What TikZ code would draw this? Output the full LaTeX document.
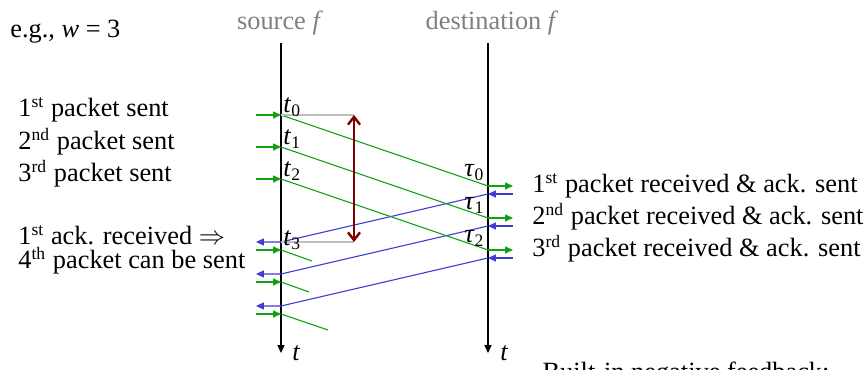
\documentclass[tikz,border=0pt]{standalone}
\usepackage{fontspec}
\setmainfont{Liberation Serif}
\newfontfamily\timesfont{Liberation Serif}
\usetikzlibrary{arrows.meta}
\definecolor{sentgreen}{RGB}{20,160,20}
\definecolor{ackblue}{RGB}{60,60,215}
\definecolor{rttred}{RGB}{128,0,0}
\definecolor{flowgray}{RGB}{128,128,128}

\begin{document}
\begin{tikzpicture}[x=0.016cm, y=-0.016cm,
  every node/.style={font=\timesfont\fontsize{12}{14}\selectfont, inner sep=0pt},
  pkt/.style={sentgreen, line width=0.5pt},
  ack/.style={ackblue, line width=0.5pt},
  tip/.style={-{Triangle[length=3.6pt,width=3.2pt]}}]
  \useasboundingbox (0,0) rectangle (867,370);
  % time axes
  \coordinate (srctop) at (281,43);
  \coordinate (srcbot) at (281,353);
  \coordinate (dsttop) at (488,43);
  \coordinate (dstbot) at (488,353);
  \draw[line width=0.7pt, tip] (srctop) -- (srcbot);
  \draw[line width=0.7pt, tip] (dsttop) -- (dstbot);
  \node[anchor=base west] (srct) at (292,361) {\textit{t}};
  \node[anchor=base west] (dstt) at (500,361) {\textit{t}};
  \node[flowgray, anchor=base] (src) at (280,30) {source \textit{f}};
  \node[flowgray, anchor=base] (dst) at (492,30) {destination \textit{f}};
  \node[anchor=base west] (win) at (10,38) {e.g., \textit{w} = 3};
  % packets sent
  \foreach \i/\y in {0/115,1/147,2/179,3/250,4/282,5/314} {
    \coordinate (s\i) at (281,\y);
    \coordinate (in\i) at (256,\y);
    \draw[pkt, tip] (in\i) -- (s\i);
  }
  % packets received, acks sent
  \foreach \i/\y in {0/186,1/218,2/250} {
    \coordinate (r\i) at (488,\y);
    \coordinate (rout\i) at (513,\y);
    \coordinate (a\i) at (488,\y+8);
    \coordinate (ain\i) at (513,\y+8);
    \coordinate (k\i) at (281,\y+56);
    \coordinate (kout\i) at (256,\y+56);
    \draw[pkt] (s\i) -- (r\i);
    \draw[pkt, tip] (r\i) -- (rout\i);
    \draw[ack, tip] (ain\i) -- (a\i);
    \draw[ack, tip] (a\i) -- (k\i) -- (kout\i);
  }
  \coordinate (e3) at (312,261);
  \coordinate (e4) at (309,292);
  \coordinate (e5) at (328,330);
  \foreach \i in {3,4,5} \draw[pkt] (s\i) -- (e\i);
  % round trip
  \coordinate (rtttop) at (354,115);
  \coordinate (rttbot) at (354,242);
  \draw[black!25, line width=0.5pt] (s0) -- (rtttop);
  \draw[black!25, line width=0.5pt] (k0) -- (rttbot);
  \draw[rttred, line width=1.1pt, {Straight Barb[length=3.5pt,width=5.5pt]}-{Straight Barb[length=3.5pt,width=5.5pt]}] (rtttop) -- (rttbot);
  % time labels
  \node[anchor=base west] (t0) at (283,113) {\textit{t}\textsubscript{0}};
  \node[anchor=base west] (t1) at (283,145) {\textit{t}\textsubscript{1}};
  \node[anchor=base west] (t2) at (283,177) {\textit{t}\textsubscript{2}};
  \node[anchor=base west] (t3) at (283,246) {\textit{t}\textsubscript{3}};
  \node[anchor=base east] (tau0) at (485,177) {\textit{τ}\textsubscript{0}};
  \node[anchor=base east] (tau1) at (485,210) {\textit{τ}\textsubscript{1}};
  \node[anchor=base east] (tau2) at (485,243) {\textit{τ}\textsubscript{2}};
  % explanations
  \node[anchor=base west] (sent0) at (18,117) {1\textsuperscript{st} packet sent};
  \node[anchor=base west] (sent1) at (18,150) {2\textsuperscript{nd} packet sent};
  \node[anchor=base west] (sent2) at (18,182) {3\textsuperscript{rd} packet sent};
  \node[anchor=base west] (ackrec) at (18,245) {1\textsuperscript{st} ack. received $\Rightarrow$};
  \node[anchor=base west] (sent3) at (18,269) {4\textsuperscript{th} packet can be sent};
  \node[anchor=base west] (rec0) at (532,193) {1\textsuperscript{st} packet received \& ack. sent};
  \node[anchor=base west] (rec1) at (532,225) {2\textsuperscript{nd} packet received \& ack. sent};
  \node[anchor=base west] (rec2) at (532,257) {3\textsuperscript{rd} packet received \& ack. sent};
  \node[anchor=base] (feedback) at (686,381) {Built-in negative feedback:};
\end{tikzpicture}
\end{document}
